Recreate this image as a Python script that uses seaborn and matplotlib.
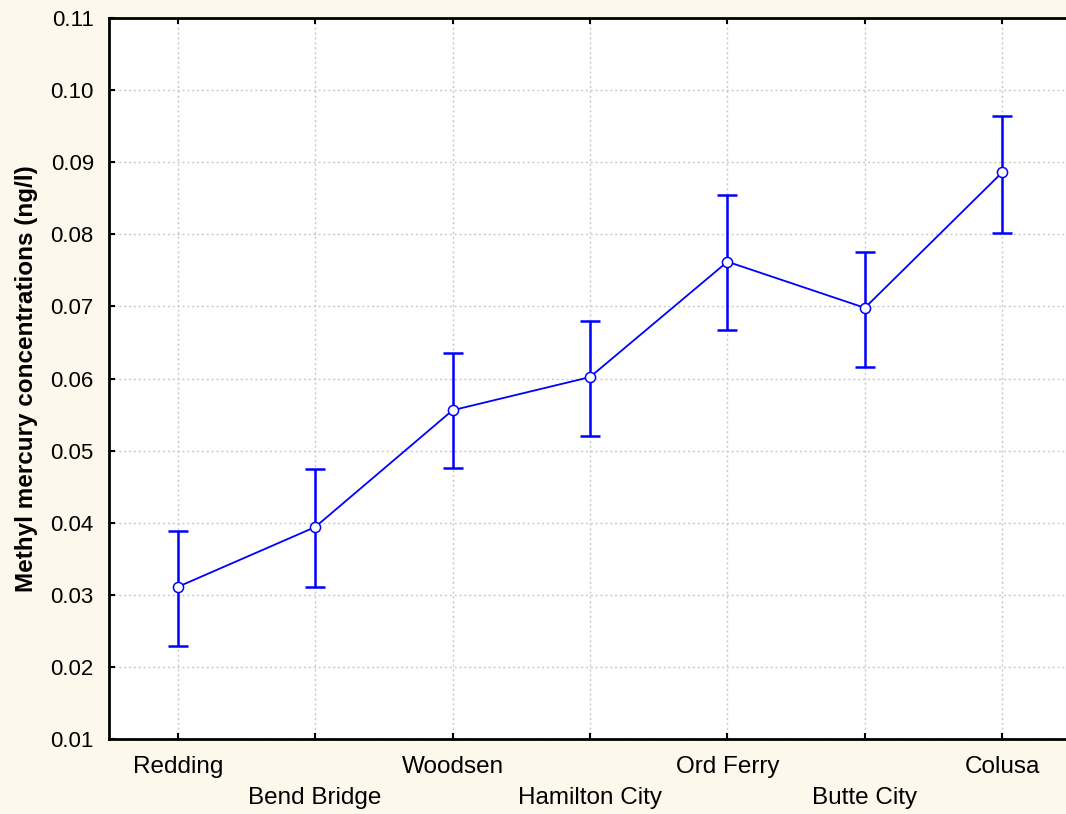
import matplotlib
matplotlib.use("Agg")
import matplotlib.pyplot as plt
import seaborn as sns
import numpy as np
import pandas as pd

# Sampling sites along the river and mean methyl mercury with interval bounds
sites = ["Redding", "Bend Bridge", "Woodsen", "Hamilton City",
         "Ord Ferry", "Butte City", "Colusa"]
mean_mehg = [0.0311, 0.0394, 0.0556, 0.0602, 0.0762, 0.0698, 0.0886]
lower_mehg = [0.0229, 0.0311, 0.0476, 0.0520, 0.0667, 0.0616, 0.0802]
upper_mehg = [0.0389, 0.0474, 0.0635, 0.0680, 0.0855, 0.0775, 0.0964]
y_ticks = [0.01, 0.02, 0.03, 0.04, 0.05, 0.06, 0.07, 0.08, 0.09, 0.10, 0.11]

df = pd.DataFrame({"site": sites, "pos": np.arange(len(sites)),
                   "mean": mean_mehg, "lo": lower_mehg, "hi": upper_mehg})

sns.set_theme(style="white")
plt.rcParams["font.family"] = ["Liberation Sans", "DejaVu Sans"]
plt.rcParams["text.color"] = "black"
plt.rcParams["xtick.color"] = "black"
plt.rcParams["ytick.color"] = "black"
plt.rcParams["axes.labelcolor"] = "black"

bg = "#FDF8EC"
blue = "#0000FF"

fig = plt.figure(figsize=(10.66, 8.14), dpi=100, facecolor=bg)
ax = fig.add_axes([0.1023, 0.0921, 0.9024, 0.8858])
ax.set_facecolor("white")

# Interval bars
yerr = np.vstack([df["mean"] - df["lo"], df["hi"] - df["mean"]])
ax.errorbar(df["pos"], df["mean"], yerr=yerr, fmt="none", ecolor=blue,
            elinewidth=1.8, capsize=7, capthick=1.8, zorder=3)

# Mean line with open circle markers
sns.lineplot(data=df, x="pos", y="mean", ax=ax, color=blue, linewidth=1.3,
             marker="o", markersize=7.3, markerfacecolor="white",
             markeredgecolor=blue, markeredgewidth=1.1, zorder=4)

ax.set_xlim(-0.5, 6.5)
ax.set_ylim(0.01, 0.11)
ax.set_yticks(y_ticks)
ax.set_yticklabels([f"{v:.2f}" for v in y_ticks], fontsize=16)
ax.set_xticks(df["pos"])
ax.set_xticklabels([s if i % 2 == 0 else "\n" + s for i, s in enumerate(sites)],
                   fontsize=17.5, linespacing=1.55)

ax.grid(True, color="#C8C8C8", linestyle=(0, (1.5, 2)), linewidth=1.0)
ax.set_axisbelow(True)

for side in ["left", "bottom", "top"]:
    ax.spines[side].set_visible(True)
    ax.spines[side].set_color("black")
    ax.spines[side].set_linewidth(2)
ax.spines["right"].set_visible(False)

ax.tick_params(axis="both", direction="in", length=4, width=1.5, color="black")
ax.tick_params(axis="y", pad=11, left=True)
ax.tick_params(axis="x", pad=12, bottom=True, top=True)

ax.set_xlabel("")
ax.set_ylabel("Methyl mercury concentrations (ng/l)", fontsize=17.5,
              fontweight="bold", labelpad=9)

fig.savefig("out.png", dpi=100, facecolor=bg)
